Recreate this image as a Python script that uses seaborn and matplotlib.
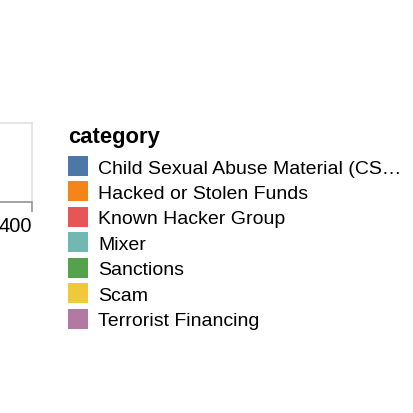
import matplotlib
matplotlib.use("Agg")
import matplotlib.pyplot as plt
import seaborn as sns
from matplotlib.patches import Patch

# ---- data ----
categories = [
    "Child Sexual Abuse Material (CS…",
    "Hacked or Stolen Funds",
    "Known Hacker Group",
    "Mixer",
    "Sanctions",
    "Scam",
    "Terrorist Financing",
]
category_colors = ["#4c78a8", "#f58518", "#e45756", "#72b7b2",
                   "#54a24b", "#eeca3b", "#b279a2"]
x_ticks = [400]
x_tick_labels = ["400"]
legend_title = "category"

sns.set_theme(style="white")
plt.rcParams["font.family"] = ["Liberation Sans", "DejaVu Sans"]
plt.rcParams["text.color"] = "#000000"

W = H = 414
PX = 72 / 100  # points per pixel at dpi 100
fig = plt.figure(figsize=(W / 100, H / 100), dpi=100)
fig.patch.set_facecolor("white")

# axes mostly cropped off to the left; only its right end is visible
ax_left, ax_right, ax_top, ax_bottom = -300, 32, 124, 203
ax = fig.add_axes([ax_left / W, 1 - ax_bottom / H,
                   (ax_right - ax_left) / W, (ax_bottom - ax_top) / H])
ax.set_facecolor("white")
ax.set_xlim(0, max(x_ticks))
ax.set_ylim(0, 1)
ax.set_xticks(x_ticks, x_tick_labels)
ax.set_yticks([])
for s in ["top", "right", "left"]:
    ax.spines[s].set_color("#dddddd")
    ax.spines[s].set_linewidth(1.5 * PX)
ax.spines["bottom"].set_color("#888888")
ax.spines["bottom"].set_linewidth(1.5 * PX)
ax.tick_params(axis="x", bottom=True, length=10 * PX, width=1.5 * PX,
               color="#888888", pad=4 * PX, labelsize=20 * PX,
               labelcolor="#000000")
for lbl in ax.get_xticklabels():
    lbl.set_ha("right")

palette = sns.color_palette(category_colors)
handles = [Patch(facecolor=c, edgecolor="none") for c in palette]
FS = 19.5
leg = fig.legend(handles, categories, title=legend_title,
                 loc="upper left", bbox_to_anchor=(68 / W, 1 - 127 / H),
                 frameon=False, fontsize=FS * PX, title_fontsize=22 * PX,
                 handlelength=20 / FS, handleheight=1.2, handletextpad=10 / FS,
                 labelspacing=0.25, borderpad=0, borderaxespad=0,
                 alignment="left", labelcolor="#000000")
leg.get_title().set_fontweight("bold")
leg.get_title().set_color("#000000")
leg._legend_box.sep = 9 * PX

fig.savefig("out.png", dpi=100, facecolor="white")
